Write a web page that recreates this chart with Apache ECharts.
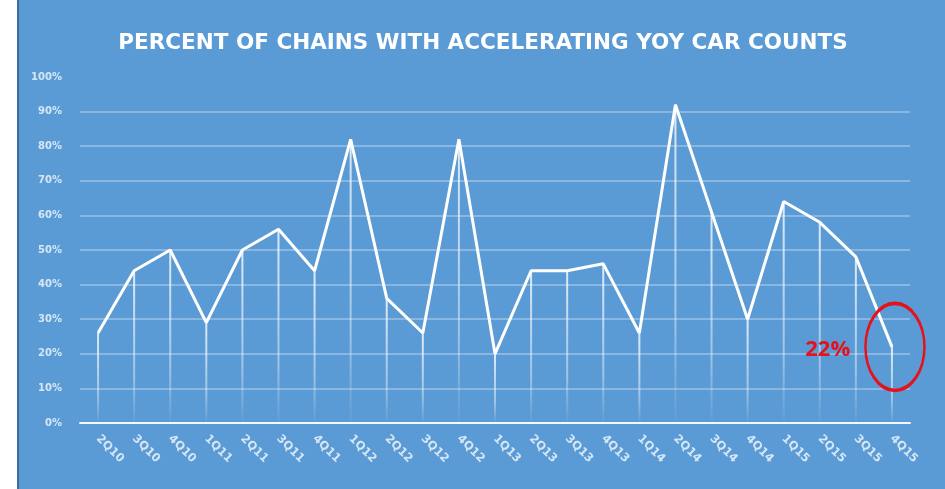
<!DOCTYPE html>
<html>
<head>
<meta charset="utf-8">
<script src="https://cdn.jsdelivr.net/npm/echarts@6/dist/echarts.min.js"></script>
<style>
  html, body { margin: 0; padding: 0; background: #ffffff; width: 945px; height: 489px; overflow: hidden; }
  #edge { position: absolute; left: 17px; top: 0; width: 2px; height: 489px; background: #3c6a9e; }
  #chart { position: absolute; left: 19px; top: 0; width: 926px; height: 489px; }
</style>
</head>
<body>
<div id="edge"></div>
<div id="chart"></div>
<script>
const titleText = 'PERCENT OF CHAINS WITH ACCELERATING YOY CAR COUNTS';
const quarters = ['2Q10','3Q10','4Q10','1Q11','2Q11','3Q11','4Q11','1Q12','2Q12','3Q12','4Q12','1Q13',
                  '2Q13','3Q13','4Q13','1Q14','2Q14','3Q14','4Q14','1Q15','2Q15','3Q15','4Q15'];
const pctAccelerating = [26, 44, 50, 29, 50, 56, 44, 82, 36, 26, 82, 20,
                         44, 44, 46, 26, 92, 61, 30, 64, 58, 48, 22];
const yTicks = [0, 10, 20, 30, 40, 50, 60, 70, 80, 90, 100];

const lastIdx = pctAccelerating.length - 1;
const gridColors = yTicks.map(function (t, i) {
  return i === yTicks.length - 1 ? 'rgba(255,255,255,0)' : 'rgba(255,255,255,0.38)';
});

const chart = echarts.init(document.getElementById('chart'));
chart.setOption({
  animation: false,
  backgroundColor: '#5b9bd5',
  title: {
    text: titleText,
    left: 459,
    textAlign: 'center',
    top: 27,
    textStyle: { color: '#ffffff', fontSize: 21.5, fontWeight: 'bold', fontFamily: 'DejaVu Sans' }
  },
  grid: { left: 61, right: 35, top: 77, bottom: 66 },
  xAxis: {
    type: 'category',
    data: quarters,
    boundaryGap: true,
    axisLine: { lineStyle: { color: 'rgba(255,255,255,0.9)', width: 2 } },
    axisTick: { show: false },
    axisLabel: {
      rotate: -45,
      margin: 14,
      interval: 0,
      color: 'rgba(235,243,252,0.85)',
      fontSize: 11.5,
      fontWeight: 'bold',
      fontFamily: 'DejaVu Sans'
    },
    splitLine: { show: false }
  },
  yAxis: {
    type: 'value',
    min: 0,
    max: 100,
    interval: 10,
    axisLine: { show: false },
    axisTick: { show: false },
    axisLabel: {
      formatter: '{value}%',
      margin: 18,
      color: 'rgba(235,243,252,0.85)',
      fontSize: 10,
      fontWeight: 'bold',
      fontFamily: 'DejaVu Sans'
    },
    splitLine: { show: true, lineStyle: { color: gridColors, width: 1.5 } }
  },
  series: [
    {
      type: 'bar',
      data: pctAccelerating,
      barWidth: 2,
      silent: true,
      itemStyle: {
        color: new echarts.graphic.LinearGradient(0, 0, 0, 1, [
          { offset: 0, color: 'rgba(255,255,255,0.8)' },
          { offset: 0.7, color: 'rgba(255,255,255,0.4)' },
          { offset: 1, color: 'rgba(255,255,255,0.02)' }
        ])
      },
      z: 2
    },
    {
      type: 'line',
      data: pctAccelerating,
      symbol: 'none',
      lineStyle: { color: '#ffffff', width: 3 },
      z: 3,
      markPoint: {
        symbol: 'path://M50,0 A50,50 0 1,1 50,100 A50,50 0 1,1 50,0 Z',
        symbolSize: [59, 87],
        symbolOffset: [3, 0],
        silent: true,
        itemStyle: { color: 'rgba(0,0,0,0)', borderColor: '#e5121b', borderWidth: 3 },
        label: {
          show: true,
          position: 'left',
          distance: 14,
          offset: [0, 3],
          formatter: function (p) { return p.value + '%'; },
          color: '#e5121b',
          fontSize: 22,
          fontWeight: 'bold',
          fontFamily: 'Open Sans'
        },
        data: [{ coord: [lastIdx, pctAccelerating[lastIdx]], value: pctAccelerating[lastIdx] }]
      }
    }
  ]
});
</script>
</body>
</html>
